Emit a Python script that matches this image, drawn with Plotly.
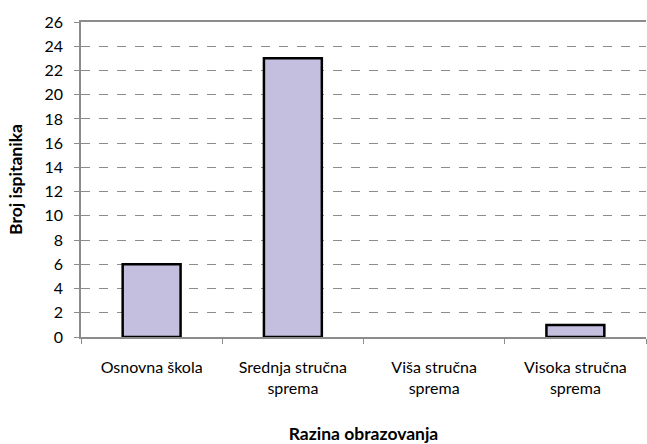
import plotly.graph_objects as go

categories = ["Osnovna škola", "Srednja stručna<br>sprema", "Viša stručna<br>sprema", "Visoka stručna<br>sprema"]
counts = [6, 23, 0, 1]
y_ticks = list(range(0, 27, 2))

# zero-height bar gets no outline (the reference shows nothing there)
outline = [2.5 if c > 0 else 0 for c in counts]

fig = go.Figure()
fig.add_trace(go.Bar(
    x=categories,
    y=counts,
    width=0.41,
    marker=dict(color="#C4BFDE", line=dict(color="black", width=outline)),
))

fig.update_layout(
    width=647, height=444,
    margin=dict(l=81, r=1, t=22, b=107),
    plot_bgcolor="white", paper_bgcolor="white",
    font=dict(family="Lato", size=16, color="black"),
    showlegend=False,
)

fig.update_xaxes(
    type="category",
    showline=True, linecolor="#8C8C8C", linewidth=1.5, mirror=True,
    ticks="outside", tickson="boundaries", ticklen=5, tickcolor="#8C8C8C",
    ticklabelstandoff=15,
    showgrid=False,
    tickfont=dict(size=16),
    automargin=False,
    title=dict(text="<b>Razina obrazovanja</b>", font=dict(size=17.5), standoff=34),
)
fig.update_yaxes(
    range=[0, 26], tickvals=y_ticks,
    showline=True, linecolor="#8C8C8C", linewidth=1.5,
    ticks="outside", ticklen=5, tickcolor="#8C8C8C",
    ticklabelstandoff=8,
    showgrid=True, gridcolor="#8C8C8C", griddash="dash", gridwidth=1,
    zeroline=False,
    tickfont=dict(size=16),
    automargin=False,
    title=dict(text="<b>Broj ispitanika</b>", font=dict(size=17.5), standoff=17),
)

fig.write_html("out.html", config={"displayModeBar": False},
               post_script="document.body.style.margin='0';")
